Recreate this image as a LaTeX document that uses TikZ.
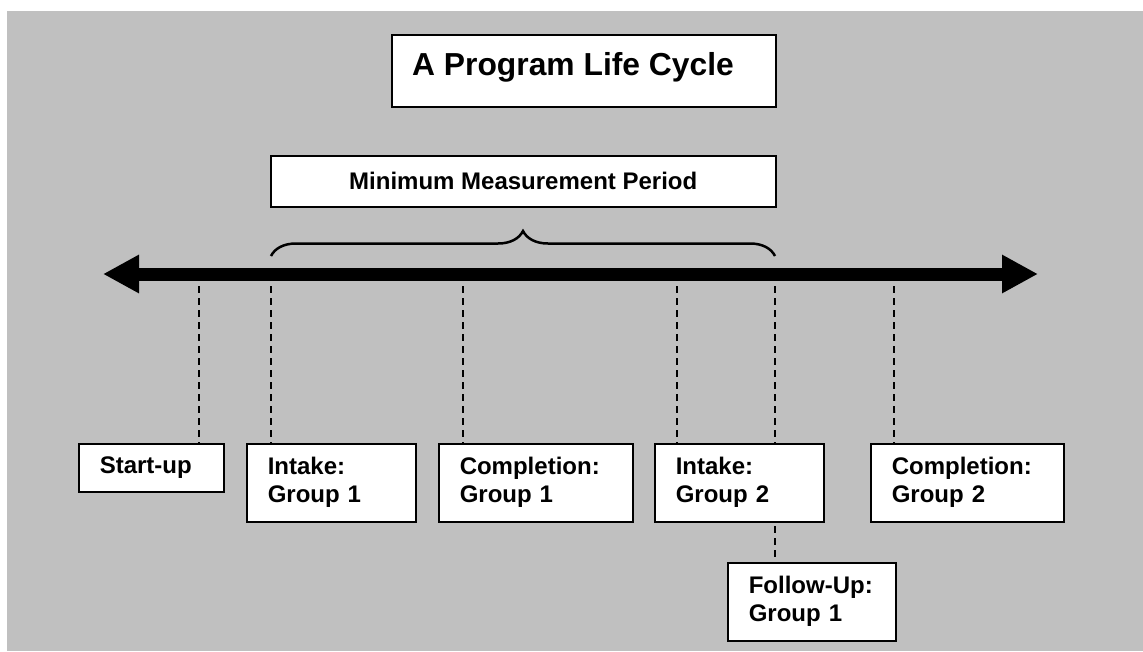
\documentclass[tikz,border=0pt]{standalone}
\usepackage{fontspec}
\setmainfont{Liberation Sans}
\usetikzlibrary{%
  arrows.meta,
  backgrounds,
  decorations.pathreplacing,
}
\definecolor{panelgray}{RGB}{192,192,192}

\begin{document}
\begin{tikzpicture}[
    x=1pt, y=1pt,
    every text node part/.style={align=left},
    every node/.style={font=\bfseries\fontsize{24}{28}\selectfont},
    stage/.style={
      % The shape:
      rectangle,
      anchor=north west,
      % The size:
      text width=#1,
      minimum height=78pt,
      inner xsep=21pt,
      inner ysep=0pt,
      % The border:
      draw=black,
      line width=1.5pt,
      % The filling:
      fill=white,
    },
    banner/.style={
      rectangle,
      anchor=north west,
      draw=black,
      line width=1.5pt,
      fill=white,
      inner sep=0pt,
    },
    timeline/.style={
      line width=13pt,
      {Triangle[length=36pt,width=36pt]}-{Triangle[length=36pt,width=36pt]},
    },
    dropline/.style={line width=1.5pt, dash pattern=on 7pt off 5pt},
    period/.style={
      line width=2.5pt,
      decorate,
      decoration={brace, amplitude=25pt},
    }]

    \useasboundingbox (0,0) rectangle (1143,-651);

    \node[banner, minimum width=384pt, minimum height=72pt] (title) at (391,-34) {};
    \node[anchor=base west, inner sep=0pt, font=\bfseries\fontsize{31.8}{38}\selectfont]
          (titletext) at (412,-75) {A Program Life Cycle};
    \node[banner, minimum width=505pt, minimum height=51pt] (mmp) at (270,-155)
          {Minimum Measurement Period};

    % the time axis and where things happen on it
    \coordinate (past) at (103,-274);
    \coordinate (future) at (1038,-274);
    \coordinate (startT) at (199,-274);
    \coordinate (intakeAT) at (271,-274);
    \coordinate (doneAT) at (463,-274);
    \coordinate (intakeBT) at (677,-274);
    \coordinate (followAT) at (775,-274);
    \coordinate (doneBT) at (894,-274);

    \draw[timeline] (past) -- (future);
    \draw[period] (intakeAT) ++(0,18) -- ([yshift=18pt]followAT);

    \node[stage=103pt, minimum height=48pt] (startup) at (78,-443) {Start-up};
    \node[stage=127pt] (intakeA) at (246,-443) {Intake:\\Group 1};
    \node[stage=152pt] (doneA) at (438,-443) {Completion:\\Group 1};
    \node[stage=127pt] (intakeB) at (654,-443) {Intake:\\Group 2};
    \node[stage=151pt] (doneB) at (870,-443) {Completion:\\Group 2};
    \node[stage=126pt] (followA) at (727,-562) {Follow-Up:\\Group 1};

    \begin{pgfonlayer}{background}
      \fill[panelgray] (7,-11) rectangle (1143,-651);
      \draw[dropline] (startT) -- (startT |- startup.north);
      \draw[dropline] (intakeAT) -- (intakeAT |- intakeA.north);
      \draw[dropline] (doneAT) -- (doneAT |- doneA.north);
      \draw[dropline] (intakeBT) -- (intakeBT |- intakeB.north);
      \draw[dropline] (followAT) -- (followAT |- followA.north);
      \draw[dropline] (doneBT) -- (doneBT |- doneB.north);
    \end{pgfonlayer}
  \end{tikzpicture}
\end{document}
